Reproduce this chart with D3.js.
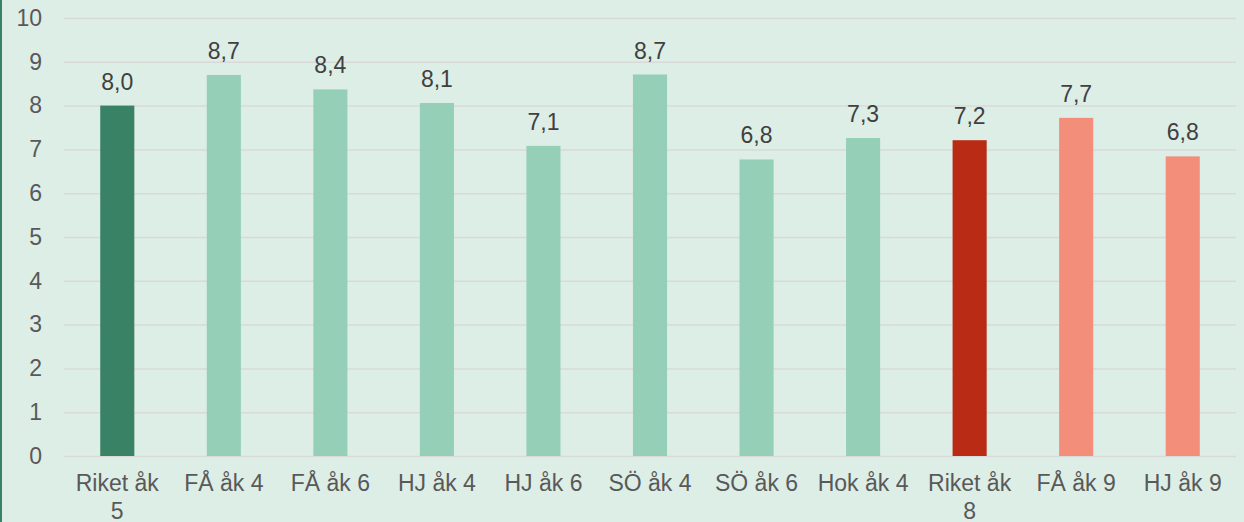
<!DOCTYPE html>
<html>
<head>
<meta charset="utf-8">
<script src="https://cdn.jsdelivr.net/npm/d3@7"></script>
<style>
  html, body { margin: 0; padding: 0; background: #ddeee6; }
  svg { display: block; }
</style>
</head>
<body>
<div id="chart"></div>
<script>
const categories = ["Riket åk 5", "FÅ åk 4", "FÅ åk 6", "HJ åk 4", "HJ åk 6", "SÖ åk 4",
  "SÖ åk 6", "Hok åk 4", "Riket åk 8", "FÅ åk 9", "HJ åk 9"];
const values = [8.0, 8.7, 8.37, 8.06, 7.08, 8.71, 6.77, 7.26, 7.21, 7.72, 6.84];
const bar_colors = ["#3a8266", "#95cfb8", "#95cfb8", "#95cfb8", "#95cfb8", "#95cfb8",
  "#95cfb8", "#95cfb8", "#b92b15", "#f28e7a", "#f28e7a"];
const y_ticks = [0, 1, 2, 3, 4, 5, 6, 7, 8, 9, 10];

const width = 1244, height = 522;
const plot = { left: 64, right: 1236, top: 18, bottom: 456 };
const font = "'Liberation Sans', Arial, sans-serif";

const svg = d3.select("#chart").append("svg")
  .attr("width", width)
  .attr("height", height);

svg.append("rect")
  .attr("width", width)
  .attr("height", height)
  .attr("fill", "#ddeee6");

// left border of the chart frame
svg.append("rect")
  .attr("x", 0)
  .attr("y", 0)
  .attr("width", 2)
  .attr("height", height)
  .attr("fill", "#3a8266");

const X = d3.scaleBand()
  .domain(categories)
  .range([plot.left, plot.right])
  .paddingInner(0.68)
  .paddingOuter(0.34);

const Y = d3.scaleLinear()
  .domain([0, 10])
  .range([plot.bottom, plot.top]);

// gridlines + tick labels
const y_axis = svg.append("g")
  .attr("transform", `translate(${plot.left}, 0)`)
  .call(d3.axisLeft(Y).tickValues(y_ticks).tickSize(-(plot.right - plot.left)).tickPadding(22))
  .call((g) => g.select(".domain").remove());

y_axis.selectAll(".tick line")
  .attr("stroke", "#d9d9d9")
  .attr("stroke-width", 1.5);

y_axis.selectAll(".tick text")
  .attr("fill", "#595959")
  .attr("font-family", font)
  .attr("font-size", 23);

// bars
svg.selectAll("rect.bar")
  .data(values)
  .enter()
  .append("rect")
  .classed("bar", true)
  .attr("x", (d, i) => X(categories[i]))
  .attr("y", (d) => Y(d))
  .attr("width", X.bandwidth())
  .attr("height", (d) => Y(0) - Y(d))
  .attr("fill", (d, i) => bar_colors[i]);

// value labels
const fmt = (v) => d3.format(".1f")(v).replace(".", ",");
svg.selectAll("text.value")
  .data(values)
  .enter()
  .append("text")
  .classed("value", true)
  .attr("x", (d, i) => X(categories[i]) + X.bandwidth() / 2)
  .attr("y", (d) => Y(d) - 16)
  .attr("text-anchor", "middle")
  .attr("fill", "#404040")
  .attr("font-family", font)
  .attr("font-size", 23)
  .text(fmt);

// category labels, wrapped like the original when too wide
const max_label_w = 96;
svg.selectAll("text.category")
  .data(categories)
  .enter()
  .append("text")
  .classed("category", true)
  .attr("x", (d) => X(d) + X.bandwidth() / 2)
  .attr("y", 491)
  .attr("text-anchor", "middle")
  .attr("fill", "#595959")
  .attr("font-family", font)
  .attr("font-size", 23)
  .each(function (d) {
    const text = d3.select(this);
    const cx = +text.attr("x");
    text.text(d);
    if (this.getComputedTextLength() > max_label_w) {
      const cut = d.lastIndexOf(" ");
      text.text(null);
      text.append("tspan").attr("x", cx).attr("dy", 0).text(d.slice(0, cut));
      text.append("tspan").attr("x", cx).attr("dy", 28).text(d.slice(cut + 1));
    }
  });
</script>
</body>
</html>
